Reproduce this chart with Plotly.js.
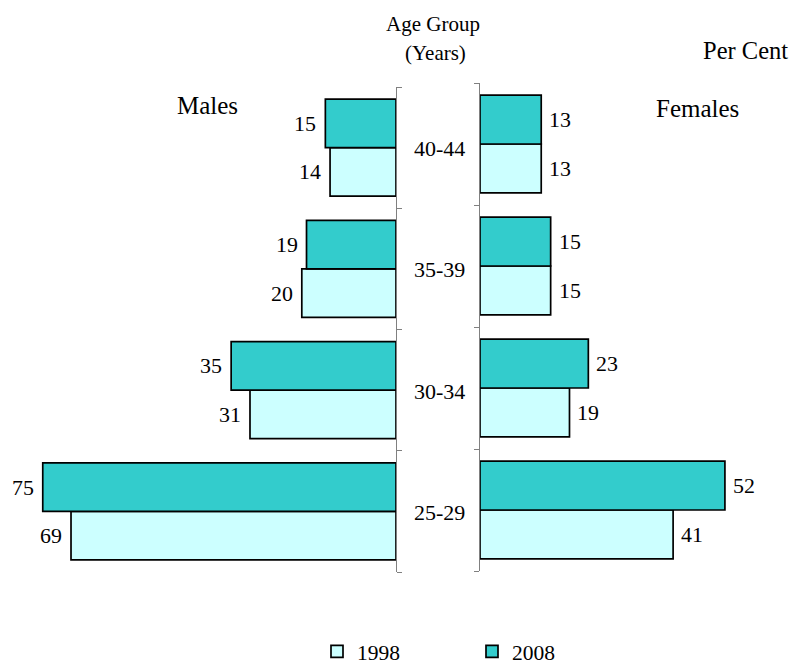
<!DOCTYPE html>
<html>
<head>
<meta charset="utf-8">
<script src="https://cdn.plot.ly/plotly-3.0.1.min.js"></script>
<style>html,body{margin:0;padding:0;background:#fff;}#chart{width:795px;height:664px;}</style>
</head>
<body>
<div id="chart"></div>
<script>
const ageGroups = ['25-29', '30-34', '35-39', '40-44'];
const years = ['1998', '2008'];
const males1998 = [69, 31, 20, 14];
const males2008 = [75, 35, 19, 15];
const females1998 = [41, 19, 15, 13];
const females2008 = [52, 23, 15, 13];

const W = 795, H = 664;
const pxPerUnit = 4.71;
const leftAxisPx = 396, rightAxisPx = 480;
const lightColor = '#CCFFFF', darkColor = '#33CCCC';
const FONT = '"Liberation Serif", "Times New Roman", Times, serif';

const lineStyle = {color: '#000000', width: 1.7};

const traces = [
  {type: 'bar', orientation: 'h', name: years[0], x: males1998, y: ageGroups,
   xaxis: 'x', yaxis: 'y', marker: {color: lightColor, line: lineStyle}, legendrank: 1},
  {type: 'bar', orientation: 'h', name: years[1], x: males2008, y: ageGroups,
   xaxis: 'x', yaxis: 'y', marker: {color: darkColor, line: lineStyle}, legendrank: 2},
  {type: 'bar', orientation: 'h', name: years[0], x: females1998, y: ageGroups,
   xaxis: 'x2', yaxis: 'y2', marker: {color: lightColor, line: lineStyle}, showlegend: false},
  {type: 'bar', orientation: 'h', name: years[1], x: females2008, y: ageGroups,
   xaxis: 'x2', yaxis: 'y2', marker: {color: darkColor, line: lineStyle}, showlegend: false}
];

const leftYDomain = [1 - 572 / H, 1 - 87 / H];
const rightYDomain = [1 - 571 / H, 1 - 83 / H];
const bargap = 0.2;
const leftBand = (leftYDomain[1] - leftYDomain[0]) * H / ageGroups.length;
const rightBand = (rightYDomain[1] - rightYDomain[0]) * H / ageGroups.length;
const leftOff = leftBand * (1 - bargap) / 4;
const rightOff = rightBand * (1 - bargap) / 4;

function f(size, fam) { return {family: fam || FONT, size: size, color: '#000'}; }

const annotations = [];
ageGroups.forEach((g, i) => {
  annotations.push({x: males1998[i], y: g, xref: 'x', yref: 'y', text: String(males1998[i]),
    showarrow: false, xanchor: 'right', yanchor: 'middle', xshift: -7, yshift: -leftOff, font: f(21.9)});
  annotations.push({x: males2008[i], y: g, xref: 'x', yref: 'y', text: String(males2008[i]),
    showarrow: false, xanchor: 'right', yanchor: 'middle', xshift: -7, yshift: leftOff, font: f(21.9)});
  annotations.push({x: females1998[i], y: g, xref: 'x2', yref: 'y2', text: String(females1998[i]),
    showarrow: false, xanchor: 'left', yanchor: 'middle', xshift: 6, yshift: -rightOff, font: f(21.9)});
  annotations.push({x: females2008[i], y: g, xref: 'x2', yref: 'y2', text: String(females2008[i]),
    showarrow: false, xanchor: 'left', yanchor: 'middle', xshift: 6, yshift: rightOff, font: f(21.9)});
  annotations.push({x: 439 / W, y: g, xref: 'paper', yref: 'y', text: g,
    showarrow: false, xanchor: 'center', yanchor: 'middle', yshift: -1, font: f(22, 'Times New Roman, serif')});
});
annotations.push(
  {x: 433 / W, y: 1 - 24 / H, xref: 'paper', yref: 'paper', text: 'Age Group', showarrow: false,
   xanchor: 'center', yanchor: 'middle', font: f(21)},
  {x: 435 / W, y: 1 - 53 / H, xref: 'paper', yref: 'paper', text: '(Years)', showarrow: false,
   xanchor: 'center', yanchor: 'middle', font: f(21)},
  {x: 745 / W, y: 1 - 50 / H, xref: 'paper', yref: 'paper', text: 'Per Cent', showarrow: false,
   xanchor: 'center', yanchor: 'middle', font: f(24.5, 'Liberation Serif')},
  {x: 207 / W, y: 1 - 106 / H, xref: 'paper', yref: 'paper', text: 'Males', showarrow: false,
   xanchor: 'center', yanchor: 'middle', font: f(25, 'Times New Roman, serif')},
  {x: 697 / W, y: 1 - 108 / H, xref: 'paper', yref: 'paper', text: 'Females', showarrow: false,
   xanchor: 'center', yanchor: 'middle', font: f(25, 'serif')}
);

const yCommon = {
  type: 'category', categoryorder: 'array', categoryarray: ageGroups,
  range: [-0.5, ageGroups.length - 0.5],
  showline: true, linecolor: '#808080', linewidth: 1,
  ticks: 'outside', tickson: 'boundaries', ticklen: 5, tickcolor: '#808080', tickwidth: 1,
  showticklabels: false, showgrid: false, zeroline: false, fixedrange: true
};

const layout = {
  width: W, height: H,
  margin: {l: 0, r: 0, t: 0, b: 0, pad: 0, autoexpand: false},
  paper_bgcolor: '#ffffff', plot_bgcolor: '#ffffff',
  barmode: 'group', bargap: bargap, bargroupgap: 0,
  font: f(21),
  xaxis: {domain: [0, leftAxisPx / W], range: [leftAxisPx / pxPerUnit, 0], visible: false, fixedrange: true},
  xaxis2: {domain: [rightAxisPx / W, 1], range: [0, (W - rightAxisPx) / pxPerUnit], visible: false, fixedrange: true},
  yaxis: Object.assign({}, yCommon, {domain: leftYDomain, anchor: 'x', side: 'right'}),
  yaxis2: Object.assign({}, yCommon, {domain: rightYDomain, anchor: 'x2', side: 'left'}),
  showlegend: true,
  legend: {orientation: 'h', x: 317 / W, xanchor: 'left', y: -0.012, yanchor: 'bottom',
           font: f(21.5), entrywidth: 110, entrywidthmode: 'pixels',
           traceorder: 'normal', bgcolor: 'rgba(0,0,0,0)'},
  annotations: annotations
};

Plotly.newPlot('chart', traces, layout, {displayModeBar: false, staticPlot: true});
</script>
</body>
</html>
